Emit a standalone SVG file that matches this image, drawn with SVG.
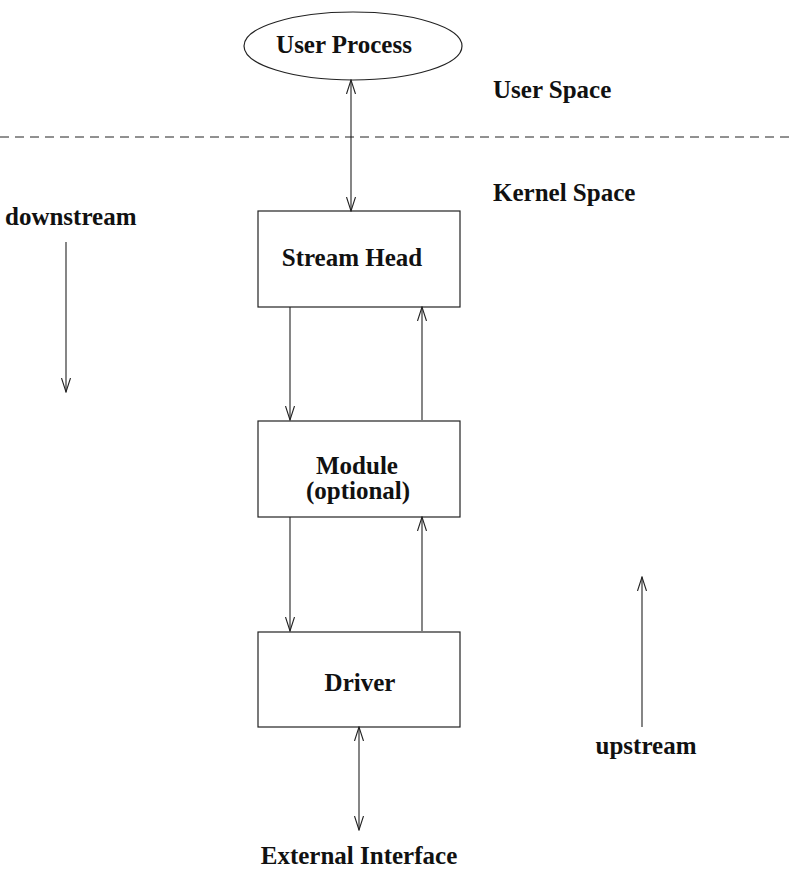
<svg xmlns="http://www.w3.org/2000/svg" width="790" height="869" viewBox="0 0 790 869">
  <style>
    .lbl { font-family: "Liberation Serif", "DejaVu Serif", serif; font-weight: bold; font-size: 25px; fill: #111; }
    .mid { text-anchor: middle; }
    .box { fill: #fff; stroke: #222; stroke-width: 1.2; }
    .edge { fill: none; stroke: #222; stroke-width: 1.1; }
  </style>
  <defs>
    <marker id="open" viewBox="0 0 15 12" refX="14" refY="6" markerWidth="15" markerHeight="12" markerUnits="userSpaceOnUse" orient="auto-start-reverse">
      <path d="M0,1.5 L14,6 L0,10.5" fill="none" stroke="#222" stroke-width="1.1"/>
    </marker>
  </defs>
  <rect width="790" height="869" fill="#fff"/>

  <!-- user / kernel boundary -->
  <line x1="0" y1="137" x2="790" y2="137" stroke="#222" stroke-width="1" stroke-dasharray="9 6"/>
  <text class="lbl" x="493" y="98">User Space</text>
  <text class="lbl" x="493" y="201">Kernel Space</text>

  <g id="user-process">
    <ellipse class="box" cx="353" cy="46" rx="109" ry="34"/>
    <text class="lbl mid" x="344" y="53">User Process</text>
  </g>
  <g id="stream-head">
    <rect class="box" x="258" y="211" width="202" height="96"/>
    <text class="lbl mid" x="352" y="266">Stream Head</text>
  </g>
  <g id="module">
    <rect class="box" x="258" y="421" width="202" height="96"/>
    <text class="lbl mid" x="357" y="474">Module</text>
    <text class="lbl mid" x="358" y="499">(optional)</text>
  </g>
  <g id="driver">
    <rect class="box" x="258" y="632" width="202" height="95"/>
    <text class="lbl mid" x="360" y="691">Driver</text>
  </g>
  <g id="external-interface">
    <text class="lbl mid" x="359" y="864">External Interface</text>
  </g>
  <g id="downstream">
    <text class="lbl" x="5" y="225">downstream</text>
  </g>
  <g id="upstream">
    <text class="lbl mid" x="646" y="754">upstream</text>
  </g>

  <g id="connectors">
    <line class="edge" x1="351" y1="80" x2="351" y2="211" marker-start="url(#open)" marker-end="url(#open)"/>
    <line class="edge" x1="290" y1="307" x2="290" y2="420" marker-end="url(#open)"/>
    <line class="edge" x1="422" y1="420" x2="422" y2="307" marker-end="url(#open)"/>
    <line class="edge" x1="290" y1="517" x2="290" y2="631" marker-end="url(#open)"/>
    <line class="edge" x1="422" y1="631" x2="422" y2="517" marker-end="url(#open)"/>
    <line class="edge" x1="359" y1="727" x2="359" y2="830" marker-start="url(#open)" marker-end="url(#open)"/>
    <line class="edge" x1="66" y1="242" x2="66" y2="392" marker-end="url(#open)"/>
    <line class="edge" x1="642" y1="727" x2="642" y2="577" marker-end="url(#open)"/>
  </g>
</svg>
